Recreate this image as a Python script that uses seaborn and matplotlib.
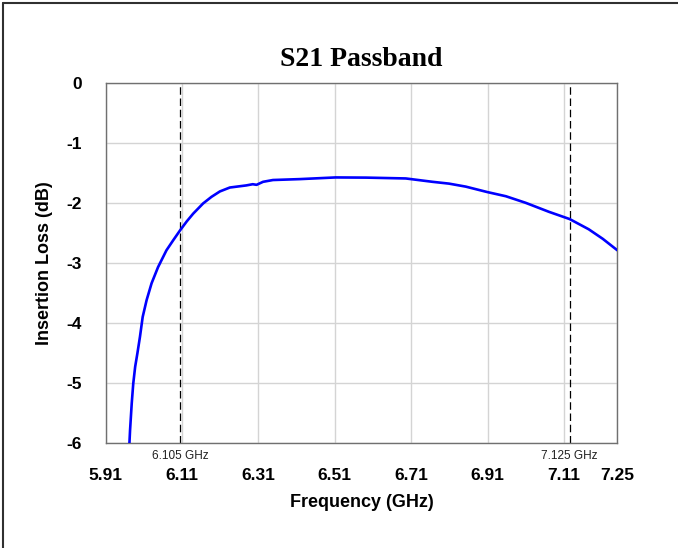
import numpy as np
import pandas as pd
import matplotlib
matplotlib.use("Agg")
import matplotlib.pyplot as plt
import seaborn as sns
from matplotlib.lines import Line2D

# данные
freq_ghz = [5.972, 5.9736, 5.978, 5.982, 5.987, 5.993, 5.9996, 6.0067, 6.017,
            6.030, 6.047, 6.069, 6.087, 6.105, 6.122, 6.139, 6.165, 6.187,
            6.209, 6.235, 6.278, 6.295, 6.305, 6.322, 6.348, 6.418, 6.512,
            6.592, 6.696, 6.766, 6.809, 6.853, 6.909, 6.958, 7.010, 7.071,
            7.125, 7.175, 7.212, 7.250]
loss_db = [-6.00, -5.79, -5.34, -5.01, -4.73, -4.50, -4.23, -3.90, -3.62,
           -3.34, -3.07, -2.79, -2.62, -2.455, -2.31, -2.18, -2.01, -1.90,
           -1.81, -1.745, -1.71, -1.69, -1.70, -1.65, -1.62, -1.605, -1.577,
           -1.58, -1.594, -1.65, -1.68, -1.73, -1.82, -1.89, -2.00, -2.15,
           -2.27, -2.44, -2.60, -2.79]

x_ticks = [5.91, 6.11, 6.31, 6.51, 6.71, 6.91, 7.11, 7.25]
y_ticks = [0, -1, -2, -3, -4, -5, -6]
band_edges = [6.105, 7.125]
band_labels = ["6.105 GHz", "7.125 GHz"]

sns.set_style("white")
plt.rcParams['font.family'] = ['Liberation Sans', 'DejaVu Sans']
plt.rcParams['text.color'] = 'black'
plt.rcParams['axes.labelcolor'] = 'black'
plt.rcParams['xtick.color'] = 'black'
plt.rcParams['ytick.color'] = 'black'

df = pd.DataFrame({"freq": freq_ghz, "loss": loss_db})

fig = plt.figure(figsize=(6.78, 5.48), dpi=100)
ax = fig.add_axes([0.156, 0.1916, 0.7545, 0.6574])

sns.lineplot(data=df, x="freq", y="loss", ax=ax, color="#0000ff",
             linewidth=1.9, zorder=3)

ax.set_xlim(5.91, 7.25)
ax.set_ylim(-6, 0)
ax.set_xticks(x_ticks)
ax.set_yticks(y_ticks)
ax.set_xticklabels([f"{v:.2f}" for v in x_ticks], fontweight="bold", fontsize=12.5)
ax.set_yticklabels([str(v) for v in y_ticks], fontweight="bold", fontsize=12.5)
ax.tick_params(axis="x", length=0, pad=18)
ax.tick_params(axis="y", length=0, pad=17)
ax.grid(True, color="#d4d4d4", linewidth=1.0, zorder=0)
for s in ax.spines.values():
    s.set_color("#707070")
    s.set_linewidth(1.0)

# границы полосы
for edge, lbl in zip(band_edges, band_labels):
    ax.axvline(edge, color="black", linestyle=(0, (6, 3)), linewidth=0.9, zorder=2)
    ax.text(edge, -6.12, lbl, ha="center", va="top", fontsize=8.5,
            color="#202020", clip_on=False)

ax.set_xlabel("Frequency (GHz)", fontweight="bold", fontsize=13, labelpad=8)
ax.set_ylabel("Insertion Loss (dB)", fontweight="bold", fontsize=13, labelpad=10)
ax.set_title("S21 Passband", fontsize=20, fontweight="bold",
             family="Liberation Serif", pad=12)

# рамка рисунка (верх и левый край)
fig.add_artist(Line2D([0.004, 1.0], [0.994, 0.994], color="#303030",
                      linewidth=1.5, transform=fig.transFigure))
fig.add_artist(Line2D([0.004, 0.004], [0.0, 0.994], color="#303030",
                      linewidth=1.5, transform=fig.transFigure))

fig.savefig("out.png", dpi=100)
